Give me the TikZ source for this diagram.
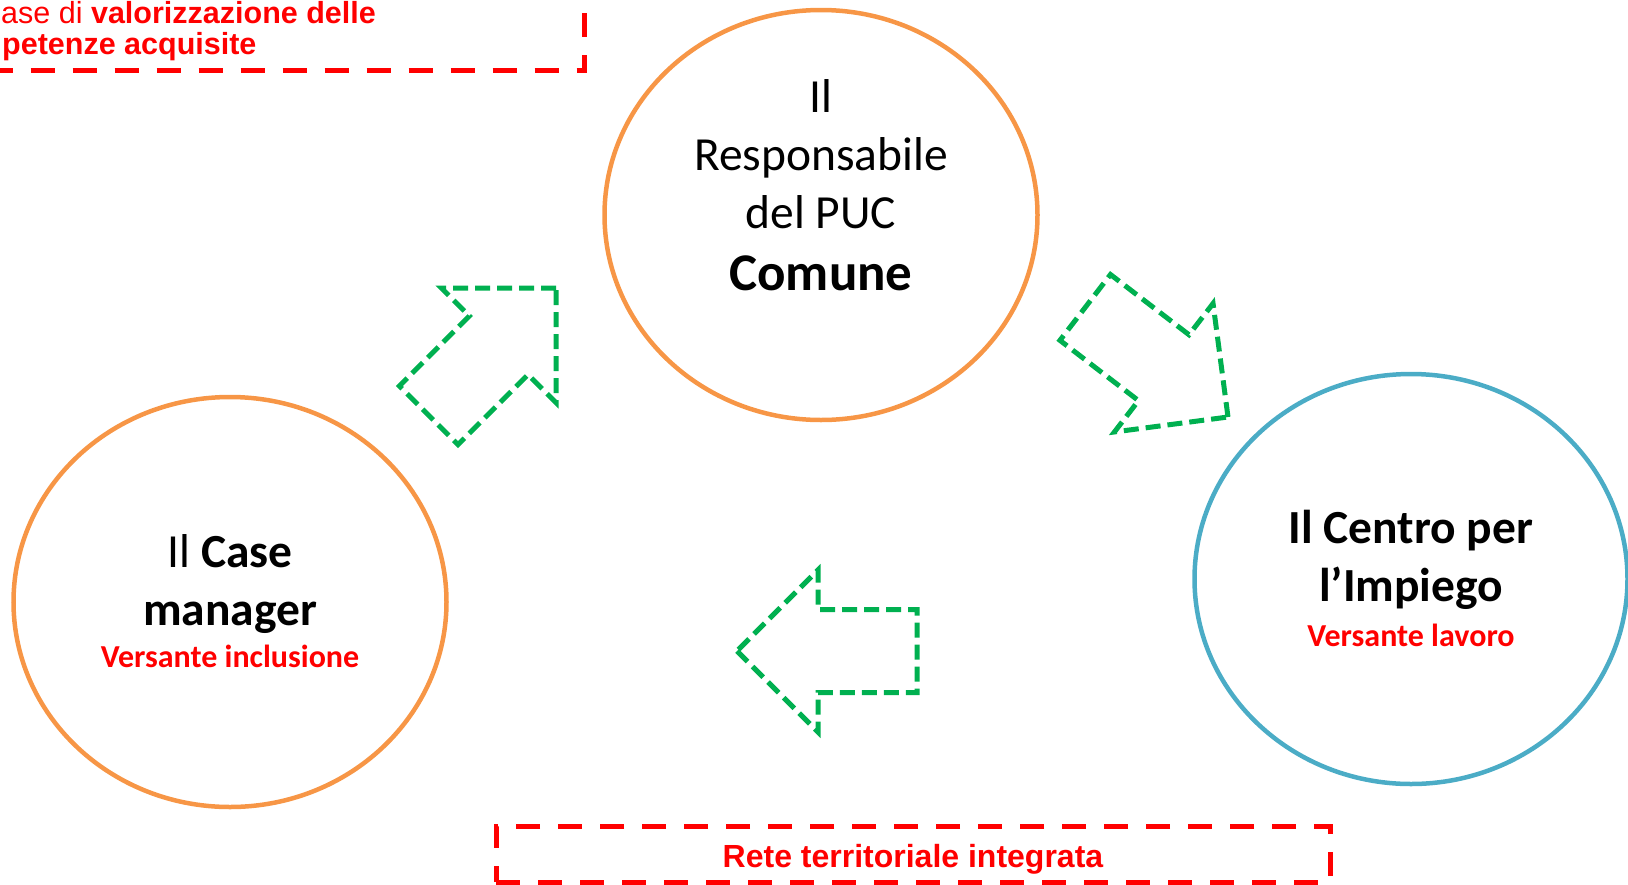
\documentclass[tikz,border=0pt]{standalone}
\usepackage{fontspec}
\setmainfont{Carlito}
\newfontfamily\arialfont{Liberation Sans}
\usepackage{tikz}
\usetikzlibrary{shapes.geometric,shapes.arrows}
\definecolor{actororange}{HTML}{F79646}
\definecolor{actorblue}{HTML}{4BACC6}
\definecolor{flowgreen}{HTML}{00B050}
\tikzstyle{actor} = [ellipse, draw=actororange, line width=4.5pt,
minimum width=433pt, minimum height=410pt, inner sep=0pt]
\tikzstyle{actorb} = [actor, draw=actorblue]
\tikzstyle{actortext} = [align=center, inner sep=0pt,
font=\fontsize{47.5}{58}\selectfont]
\tikzstyle{flow} = [single arrow, draw=flowgreen, line width=5pt,
dash pattern=on 15pt off 7pt, single arrow tip angle=90,
single arrow head extend=39.5pt, minimum height=180pt, minimum width=157pt,
inner xsep=0pt, inner ysep=39pt, outer sep=0pt]
\tikzstyle{note} = [rectangle, draw=red, line width=5pt,
dash pattern=on 24pt off 18pt, text=red, inner sep=0pt,
font=\arialfont\bfseries\fontsize{32}{38}\selectfont]
\tikzstyle{notetext} = [text=red, inner sep=0pt,
font=\arialfont\bfseries\fontsize{30.5}{36}\selectfont]

\begin{document}
\begin{tikzpicture}[x=1pt, y=-1pt]
    \useasboundingbox (0,0) rectangle (1628,884);
    % Place nodes
    \node [actor] (resp) at (821,215) {};
    \node [actor] (case) at (230,602) {};
    \node [actorb] (cpi) at (1411,579) {};
    \node [actortext, yshift=30pt] (resptext) at (resp)
    {Il\\Responsabile\\del PUC\\[4pt]{\fontsize{53}{58}\selectfont\bfseries Comune}};
    \node [actortext, yshift=1pt] (casetext) at (case)
    {Il \textbf{Case}\\\textbf{manager}\\[-16pt]{\color{red}\fontsize{32}{38}\selectfont\bfseries Versante inclusione}};
    \node [actortext, yshift=1pt] (cpitext) at (cpi)
    {\textbf{Il Centro per}\\\textbf{l’Impiego}\\[-13pt]{\color{red}\fontsize{32}{38}\selectfont\bfseries Versante lavoro}};
    \node [note, minimum width=680pt, minimum height=140pt, anchor=south east]
    (fase) at (587,73) {};
    \node [notetext, anchor=base west] (fase1) at (1,23)
    {{\mdseries ase di }valorizzazione delle};
    \node [notetext, anchor=base west] (fase2) at (2,54)
    {petenze acquisite};
    \node [note, minimum width=834pt, minimum height=56pt,
    text height=26pt, text depth=0pt] (rete) at (913,854)
    {Rete territoriale integrata};

    % Draw arrows
    \node [flow, rotate=45, anchor=tip] (tocomune) at (556,288) {};
    \node [flow, rotate=-37.5, anchor=tip] (tocpi) at (1228,417) {};
    \node [flow, rotate=180, anchor=tip] (tocase) at (737,651) {};
\end{tikzpicture}
\end{document}
